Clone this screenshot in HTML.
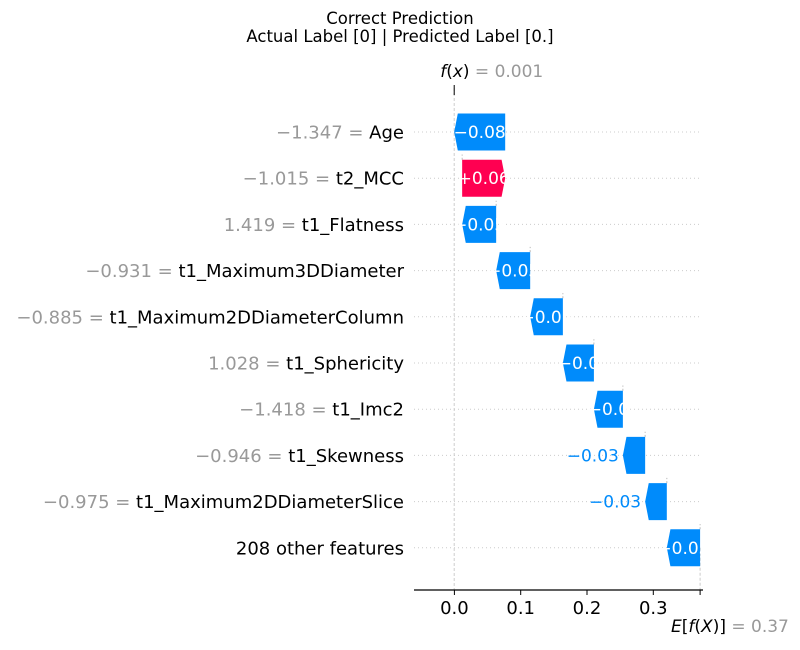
<!DOCTYPE html>
<html><head><meta charset="utf-8"><style>
html,body{margin:0;padding:0;background:#fff;}
svg{display:block;font-family:"DejaVu Sans","Liberation Sans",sans-serif;}
</style></head><body>
<svg id="chart" width="800" height="650" viewBox="0 0 800 650">
<text x="400" y="24" text-anchor="middle" font-size="16.5" fill="#000">Correct Prediction</text>
<text x="400" y="42" text-anchor="middle" font-size="16.5" fill="#000">Actual Label [0] | Predicted Label [0.]</text>
<g id="plot"></g>
</svg>
<script>
const featureValues = ["\u22121.347","\u22121.015","1.419","\u22120.931","\u22120.885","1.028","\u22121.418","\u22120.946","\u22120.975",""];
const featureNames = ["Age","t2_MCC","t1_Flatness","t1_Maximum3DDiameter","t1_Maximum2DDiameterColumn","t1_Sphericity","t1_Imc2","t1_Skewness","t1_Maximum2DDiameterSlice","208 other features"];
const shapValues = [-0.0769,0.0649,-0.0513,-0.0513,-0.0493,-0.0468,-0.0437,-0.0336,-0.0327,-0.0502];
const barLabels = ["\u22120.08","+0.06","\u22120.05","\u22120.05","\u22120.05","\u22120.0","\u22120.0","\u22120.03","\u22120.03","\u22120.05"];
const baseValue = 0.3706;
const xTicks = [0.0,0.1,0.2,0.3];
const xTickLabels = ["0.0","0.1","0.2","0.3"];

const NS="http://www.w3.org/2000/svg";
const g=document.getElementById('plot');
const x=v=>454.4+v*663;
const rowY=i=>132+i*46.2;
const barH=37, head=3.6, axisY=590;
function el(t,a,p){const e=document.createElementNS(NS,t);for(const k in a)e.setAttribute(k,a[k]);(p||g).appendChild(e);return e;}

const n=shapValues.length;
const ends=new Array(n), starts=new Array(n);
let cur=baseValue;
for(let i=n-1;i>=0;i--){starts[i]=cur;cur=cur+shapValues[i];ends[i]=cur;}
const fx=cur;

for(let i=0;i<n;i++){
  const l=el('line',{x1:414,x2:700,y1:rowY(i),y2:rowY(i),stroke:'#ccc','stroke-width':1,'stroke-dasharray':'1,3'});
  
  
}
const v1=el('line',{x1:x(fx),x2:x(fx),y1:88,y2:axisY,stroke:'#ccc','stroke-width':1,'stroke-dasharray':'3,2'});


const v2=el('line',{x1:x(baseValue),x2:x(baseValue),y1:rowY(n-1),y2:axisY,stroke:'#ccc','stroke-width':1,'stroke-dasharray':'3,2'});


const ft=el('line',{x1:x(fx),x2:x(fx),y1:85,y2:95,stroke:'#000','stroke-width':1});


const fl=el('text',{x:x(fx)-14,y:77,'font-size':17,fill:'#000'});
fl.innerHTML='<tspan font-style="italic">f</tspan>(<tspan font-style="italic">x</tspan>)<tspan fill="#999"> = 0.001</tspan>';



for(let i=0;i<n;i++){
  const y=rowY(i), a=x(starts[i]), b=x(ends[i]);
  const pos=shapValues[i]>0;
  const col=pos?'#ff0051':'#008bfb';
  if(i>0){
    const c=el('line',{x1:a,x2:a,y1:y-barH/2,y2:rowY(i-1)+barH/2+4,stroke:'#bbb','stroke-width':1,'stroke-dasharray':'2,2'});
    
    
  }
  let pts;
  const t=y-barH/2,bt=y+barH/2;
  if(pos){pts=[[a,t],[b-head,t],[b,y],[b-head,bt],[a,bt]];}
  else{pts=[[a,t],[b+head,t],[b,y],[b+head,bt],[a,bt]];}
  const p=el('polygon',{points:pts.map(q=>q.join(',')).join(' '),fill:col});
  
  
  const w=Math.abs(b-a);
  let tx;
  if(w>28){
    tx=el('text',{x:(a+b)/2,y:y+6,'text-anchor':'middle','font-size':17,fill:'#fff'});
  }else{
    tx=el('text',{x:Math.min(a,b)-4,y:y+6,'text-anchor':'end','font-size':17,fill:col});
  }
  tx.textContent=barLabels[i];
  
  
  const yl=el('text',{x:404,y:y+6.5,'text-anchor':'end','font-size':18,fill:'#000'});
  if(featureValues[i]) yl.innerHTML='<tspan fill="#999">'+featureValues[i]+' = </tspan>'+featureNames[i];
  else yl.textContent=featureNames[i];
  
  
}
const ax=el('line',{x1:414,x2:703,y1:axisY,y2:axisY,stroke:'#000','stroke-width':1.2});


xTicks.forEach((v,k)=>{
  const tk=el('line',{x1:x(v),x2:x(v),y1:axisY,y2:axisY+5,stroke:'#000','stroke-width':1});
  
  
  const tl=el('text',{x:x(v),y:axisY+24,'text-anchor':'middle','font-size':18,fill:'#000'});
  tl.textContent=xTickLabels[k];
  
  
});
const bt=el('line',{x1:x(baseValue),x2:x(baseValue),y1:axisY,y2:axisY+5,stroke:'#000','stroke-width':1});


const bl=el('text',{x:671,y:632,'font-size':17,fill:'#000'});
bl.innerHTML='<tspan font-style="italic">E</tspan>[<tspan font-style="italic">f</tspan>(<tspan font-style="italic">X</tspan>)]<tspan fill="#999"> = 0.37</tspan>';


</script>
</body></html>
